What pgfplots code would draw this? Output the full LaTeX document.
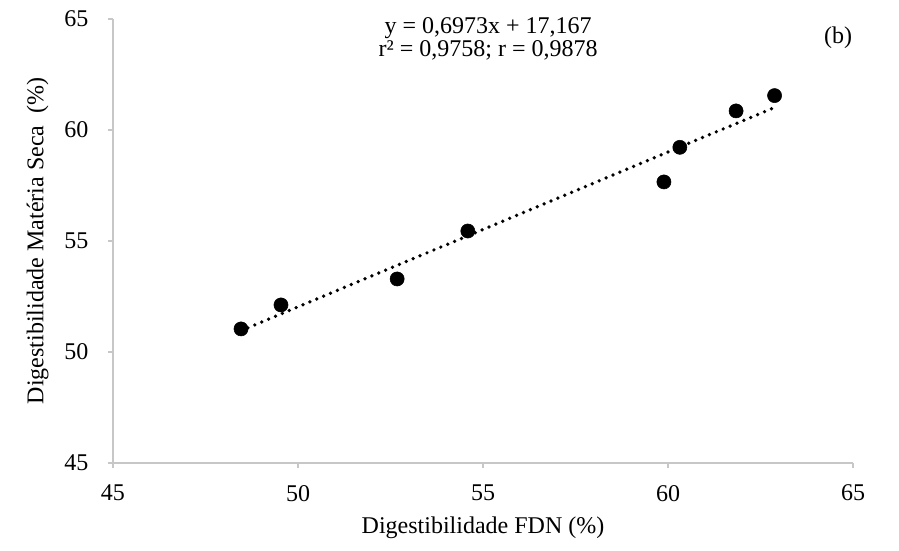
\documentclass[border=0pt]{standalone}
\usepackage{fontspec}
\setmainfont{Liberation Serif}
\usepackage{pgfplots}
\pgfplotsset{compat=1.18}

\begin{document}
\begin{tikzpicture}[font=\fontsize{18}{21}\selectfont]
\path[use as bounding box] (-84.75pt,-65.25pt) rectangle (589.5pt,347.25pt);
\begin{axis}[
  at={(0,0)}, anchor=south west,
  scale only axis, width=555pt, height=333pt,
  xmin=45, xmax=65, ymin=45, ymax=65,
  xtick={45,50,...,65}, ytick={45,50,...,65},
  axis x line=bottom, axis y line=left,
  axis line style={-, draw=black!22, line width=0.9pt},
  tick style={draw=black!22, line width=0.9pt},
  tick align=outside, major tick length=4pt,
  x axis line style={-}, y axis line style={-},
  tick label style={font=\fontsize{18}{21}\selectfont},
  label style={font=\fontsize{18}{21}\selectfont},
  xticklabel style={yshift=-9pt},
  yticklabel style={xshift=-11pt},
  /pgf/number format/assume math mode=true,
  xlabel={Digestibilidade FDN (\%)},
  ylabel={Digestibilidade Matéria Seca\ \ (\%)},
  xlabel style={yshift=-5pt},
  ylabel style={yshift=5pt},
  clip=false,
]
% regression line
\addplot[black, line width=2.8pt, line cap=round, dash pattern=on 0pt off 5.6pt]
  coordinates {(48.46,50.96) (62.90,61.03)};
% data points
\addplot[only marks, mark=*, mark size=5.3pt, black]
  coordinates {
  (48.46,51.04) (49.54,52.12) (52.68,53.29) (54.59,55.45)
  (59.89,57.66) (60.32,59.22) (61.84,60.86) (62.88,61.55)
  };
\node[align=center, font=\fontsize{18}{15}\selectfont] at (axis cs:55.14,64.1)
  {y = 0,6973x + 17,167\\r² = 0,9758; r = 0,9878};
\node at (axis cs:64.6,64.14) {(b)};
\end{axis}
\end{tikzpicture}
\end{document}
